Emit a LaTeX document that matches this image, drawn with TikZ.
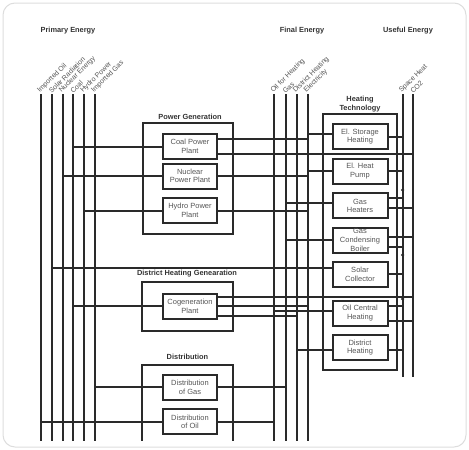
\documentclass[tikz,border=0pt]{standalone}
\usepackage{fontspec}
\setmainfont{Liberation Sans}
\usetikzlibrary{positioning}
\definecolor{lineColor}{HTML}{2A2A2A}
\definecolor{textColor}{HTML}{555555}
\definecolor{titleColor}{HTML}{333333}
\definecolor{frameColor}{HTML}{DDDDDD}

\begin{document}
\begin{tikzpicture}[x=1pt,y=-1pt]

          \tikzstyle{flow} = [lineColor,line width=2pt,line cap=rect];
          \tikzstyle{unit} = [draw=lineColor,line width=2pt,minimum width=54pt,minimum height=25pt,inner sep=0pt,align=center,text=textColor,font=\fontsize{7.5}{8.6}\selectfont];
          \tikzstyle{groupbox} = [draw=lineColor,line width=2pt,inner sep=0pt];
          \tikzstyle{heading} = [text=titleColor,align=center,font=\bfseries\fontsize{7.4}{8.4}\selectfont];
          \tikzstyle{carrier} = [text=textColor,rotate=45,anchor=south west,inner sep=0.5pt,font=\fontsize{7}{8}\selectfont];
          \tikzstyle{junction} = [circle,fill=lineColor,inner sep=0pt,minimum size=3.5pt];

          \useasboundingbox (0,0) rectangle (469,450);
          \draw[frameColor,line width=1pt,rounded corners=12pt] (3,3) rectangle (466,447);

          \node[heading] (hPrimary) at (68,31) {Primary Energy};
          \node[heading] (hFinal) at (302,31) {Final Energy};
          \node[heading] (hUseful) at (408,31) {Useful Energy};

          % energy carriers
          \coordinate (impoil) at (41,95);   \coordinate (impoil-e) at (41,440);
          \coordinate (solar) at (51.8,95);  \coordinate (solar-e) at (51.8,440);
          \coordinate (nuclear) at (62.6,95); \coordinate (nuclear-e) at (62.6,440);
          \coordinate (coal) at (73.4,95);   \coordinate (coal-e) at (73.4,440);
          \coordinate (hydro) at (84.2,95);  \coordinate (hydro-e) at (84.2,440);
          \coordinate (impgas) at (95,95);   \coordinate (impgas-e) at (95,440);
          \coordinate (oilh) at (274.3,95);  \coordinate (oilh-e) at (274.3,440);
          \coordinate (gas) at (285.7,95);   \coordinate (gas-e) at (285.7,440);
          \coordinate (dh) at (296.7,95);    \coordinate (dh-e) at (296.7,440);
          \coordinate (el) at (307.5,95);    \coordinate (el-e) at (307.5,440);
          \coordinate (sh) at (402.7,95);    \coordinate (sh-e) at (402.7,376);
          \coordinate (co2) at (413.3,95);   \coordinate (co2-e) at (413.3,376);

          \draw[flow] (impoil) -- (impoil-e);
          \draw[flow] (solar) -- (solar-e);
          \draw[flow] (nuclear) -- (nuclear-e);
          \draw[flow] (coal) -- (coal-e);
          \draw[flow] (hydro) -- (hydro-e);
          \draw[flow] (impgas) -- (impgas-e);
          \draw[flow] (oilh) -- (oilh-e);
          \draw[flow] (gas) -- (gas-e);
          \draw[flow] (dh) -- (dh-e);
          \draw[flow] (el) -- (el-e);
          \draw[flow] (sh) -- (sh-e);
          \draw[flow] (co2) -- (co2-e);

          \node[carrier] (l-impoil) at (impoil) {Imported Oil};
          \node[carrier] (l-solar) at (solar) {Solar Radiation};
          \node[carrier] (l-nuclear) at (nuclear) {Nuclear Energy};
          \node[carrier] (l-coal) at (coal) {Coal};
          \node[carrier] (l-hydro) at (hydro) {Hydro Power};
          \node[carrier] (l-impgas) at (impgas) {Imported Gas};
          \node[carrier] (l-oilh) at (oilh) {Oil for Heating};
          \node[carrier] (l-gas) at (gas) {Gas};
          \node[carrier] (l-dh) at (dh) {District Heating};
          \node[carrier] (l-el) at (el) {Electricity};
          \node[carrier] (l-sh) at (sh) {Space Heat};
          \node[carrier] (l-co2) at (co2) {CO2};

          % groups
          \node[groupbox,minimum width=90.5pt,minimum height=111.3pt] (powerGen) at (187.75,178.35) {};
          \node[heading] (t-powerGen) at (190,116.7) {Power Generation};
          \node[groupbox,minimum width=73.8pt,minimum height=256pt] (heatTech) at (359.6,242) {};
          \node[heading] (t-heatTech) at (360,104) {Heating\\Technology};
          \node[groupbox,minimum width=91pt,minimum height=49pt] (distHeatGen) at (187.5,306.2) {};
          \node[heading] (t-distHeatGen) at (187,274) {District Heating Genearation};
          \coordinate (distL) at (142,440);
          \coordinate (distR) at (233,440);
          \draw[flow] (distL) -- ++(0,-75) -| (distR);
          \node[heading] (t-dist) at (187.5,357.3) {Distribution};

          % units
          \node[unit] (cpp) at (190,146.5) {Coal Power\\Plant};
          \node[unit] (npp) at (190,176) {Nuclear\\Power Plant};
          \node[unit] (hpp) at (190,210.5) {Hydro Power\\Plant};
          \node[unit] (cog) at (190,306.2) {Cogeneration\\Plant};
          \node[unit] (dgas) at (190,387.2) {Distribution\\of Gas};
          \node[unit] (doil) at (190,421.7) {Distribution\\of Oil};

          \node[unit,minimum width=55pt] (esh) at (360,136.7) {El. Storage\\Heating};
          \node[unit,minimum width=55pt] (ehp) at (360,171.2) {El. Heat\\Pump};
          \node[unit,minimum width=55pt] (gh) at (360,205.8) {Gas\\Heaters};
          \node[unit,minimum width=55pt] (gcb) at (360,240) {Gas\\Condensing\\Boiler};
          \node[unit,minimum width=55pt] (sc) at (360,274.2) {Solar\\Collector};
          \node[unit,minimum width=55pt] (och) at (360,313.3) {Oil Central\\Heating};
          \node[unit,minimum width=55pt] (dhb) at (360,347.5) {District\\Heating};

          % primary energy into conversion
          \draw[flow] (coal |- cpp.west) -- (cpp.west);
          \draw[flow] (nuclear |- npp.west) -- (npp.west);
          \draw[flow] (hydro |- hpp.west) -- (hpp.west);
          \draw[flow] (coal |- cog.west) -- (cog.west);
          \draw[flow] (impgas |- dgas.west) -- (dgas.west);
          \draw[flow] (impoil |- doil.west) -- (doil.west);
          \draw[flow] ([yshift=6pt]solar |- sc.west) -- ([yshift=6pt]sc.west);

          % conversion to final energy
          \draw[flow] ([yshift=7.5pt]cpp.east) -- ([yshift=7.5pt]cpp.east -| el);
          \draw[flow] ([yshift=-7pt]cpp.east) -- ([yshift=-7pt]cpp.east -| co2);
          \draw[flow] (npp.east) -- (npp.east -| el);
          \draw[flow] (hpp.east) -- (hpp.east -| el);
          \draw[flow] ([yshift=9.7pt]cog.east) -- ([yshift=9.7pt]cog.east -| co2);
          \draw[flow] (cog.east) -- (cog.east -| el);
          \draw[flow] ([yshift=-9.7pt]cog.east) -- ([yshift=-9.7pt]cog.east -| dh);
          \draw[flow] (dgas.east) -- (dgas.east -| gas);
          \draw[flow] (doil.east) -- (doil.east -| oilh);

          % final energy into heating technology
          \draw[flow] ([yshift=2.7pt]esh.west -| el) -- ([yshift=2.7pt]esh.west);
          \draw[flow] (ehp.west -| el) -- (ehp.west);
          \draw[flow] ([yshift=2.5pt]gh.west -| gas) -- ([yshift=2.5pt]gh.west);
          \draw[flow] (gcb.west -| gas) -- (gcb.west);
          \draw[flow] ([yshift=2.6pt]och.west -| oilh) -- ([yshift=2.6pt]och.west);
          \draw[flow] ([yshift=-2.5pt]dhb.west -| dh) -- ([yshift=-2.5pt]dhb.west);

          % heating technology to useful energy
          \draw[flow] (esh.east) -- (esh.east -| sh);
          \draw[flow] (ehp.east) -- (ehp.east -| sh);
          \draw[flow] ([yshift=7.5pt]gh.east) -- ([yshift=7.5pt]gh.east -| sh);
          \draw[flow] ([yshift=-2.5pt]gh.east) -- ([yshift=-2.5pt]gh.east -| co2);
          \draw[flow] ([yshift=3.3pt]gcb.east) -- ([yshift=3.3pt]gcb.east -| co2);
          \draw[flow] ([yshift=-6.7pt]gcb.east) -- ([yshift=-6.7pt]gcb.east -| sh);
          \draw[flow] (sc.east) -- (sc.east -| sh);
          \draw[flow] ([yshift=7.3pt]och.east) -- ([yshift=7.3pt]och.east -| sh);
          \draw[flow] ([yshift=-7.4pt]och.east) -- ([yshift=-7.4pt]och.east -| co2);
          \draw[flow] ([yshift=-2.5pt]dhb.east) -- ([yshift=-2.5pt]dhb.east -| sh);

          \node[junction] (j1) at (402.7,190) {};
          \node[junction] (j2) at (402.7,255) {};
          \node[junction] (j3) at (402.7,299) {};
        \end{tikzpicture}
\end{document}
